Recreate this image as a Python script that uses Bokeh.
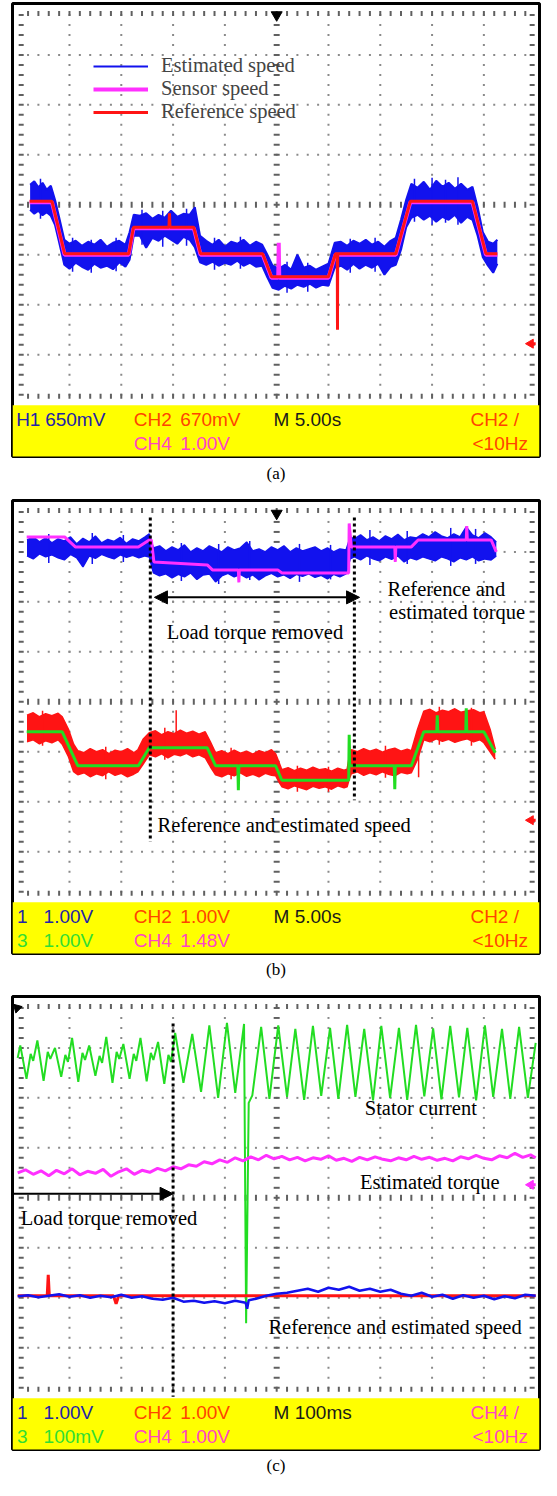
import numpy as np
from bokeh.plotting import figure
from bokeh.models import Range1d, Label, Arrow, NormalHead, Legend, LegendItem, Title
from bokeh.layouts import column
from bokeh.embed import file_html
from bokeh.resources import INLINE

# ---------------- panel (a): speed, time in s, values in screen divisions ----------------
a_ref_t = [1.15, 3.31, 4.53, 10.72, 11.18, 14.60, 14.65, 14.70, 17.0, 17.65,
           23.65, 24.5, 30.0, 30.67, 30.85, 30.87, 30.89, 36.5, 37.9, 43.9,
           45.2, 46.3]
a_ref_v = [0.07, 0.07, -0.98, -0.98, -0.45, -0.45, -0.17, -0.45, -0.45, -0.98,
           -0.98, -1.44, -1.44, -0.98, -0.98, -2.50, -0.98, -0.98, 0.07, 0.07,
           -0.98, -0.98]
a_sensor_t = [1.15, 3.31, 4.53, 10.72, 11.18, 17.0, 17.65, 23.65, 24.5, 25.15,
              25.2, 25.25, 30.0, 30.67, 36.5, 37.9, 43.9, 45.2, 46.3]
a_sensor_v = [0.05, 0.05, -1.0, -1.0, -0.47, -0.47, -1.0, -1.0, -1.46, -1.46,
              -0.76, -1.46, -1.46, -1.0, -1.0, 0.05, 0.05, -1.0, -1.0]
a_est_t = [1.2, 1.6, 2.0, 2.4, 2.8, 3.2, 3.6, 4.0, 4.5, 5.0,
           5.6, 6.2, 6.8, 7.4, 8.0, 8.6, 9.2, 9.8, 10.4, 10.8,
           11.2, 11.8, 12.4, 13.0, 13.6, 14.2, 14.8, 15.4, 16.0, 16.6,
           17.1, 17.6, 18.2, 18.8, 19.4, 20.0, 20.6, 21.2, 21.8, 22.4,
           23.0, 23.6, 24.1, 24.6, 25.2, 25.8, 26.4, 27.0, 27.6, 28.2,
           28.8, 29.4, 30.0, 30.6, 31.2, 31.8, 32.4, 33.0, 33.6, 34.2,
           34.8, 35.4, 36.0, 36.5, 37.0, 37.5, 38.0, 38.6, 39.2, 39.8,
           40.4, 41.0, 41.6, 42.2, 42.8, 43.4, 43.9, 44.4, 44.9, 45.4,
           45.9, 46.3]
a_est_hi = [0.40, 0.47, 0.35, 0.44, 0.30, 0.38, 0.10, -0.25, -0.70, -0.78,
            -0.72, -0.82, -0.74, -0.80, -0.70, -0.84, -0.76, -0.72, -0.80, -0.55,
            -0.20, -0.22, -0.17, -0.28, -0.20, -0.26, -0.12, -0.24, -0.18, -0.20,
            -0.05, -0.62, -0.72, -0.80, -0.70, -0.84, -0.74, -0.78, -0.70, -0.82,
            -0.74, -0.80, -1.00, -1.22, -1.28, -1.20, -1.30, -1.00, -1.26, -1.22,
            -1.30, -1.24, -1.18, -0.76, -0.74, -0.82, -0.72, -0.78, -0.70, -0.80,
            -0.74, -0.84, -0.72, -0.66, -0.30, 0.10, 0.42, 0.34, 0.46, 0.30,
            0.48, 0.36, 0.44, 0.32, 0.42, 0.30, 0.36, -0.05, -0.55, -0.74,
            -0.78, -0.70]
a_est_lo = [-0.10, -0.18, -0.12, -0.21, -0.15, -0.22, -0.40, -0.75, -1.20, -1.28,
            -1.16, -1.24, -1.30, -1.18, -1.26, -1.22, -1.29, -1.15, -1.24, -1.10,
            -0.62, -0.62, -0.86, -0.66, -0.72, -0.62, -0.70, -0.78, -0.64, -0.70,
            -0.85, -1.15, -1.20, -1.14, -1.22, -1.16, -1.20, -1.12, -1.22, -1.16,
            -1.24, -1.22, -1.45, -1.66, -1.70, -1.62, -1.68, -1.60, -1.64, -1.58,
            -1.66, -1.60, -1.62, -1.26, -1.22, -1.30, -1.18, -1.28, -1.20, -1.26,
            -1.18, -1.40, -1.24, -1.20, -0.90, -0.45, -0.26, -0.20, -0.30, -0.22,
            -0.34, -0.24, -0.30, -0.20, -0.36, -0.24, -0.30, -0.62, -1.05, -1.22,
            -1.36, -1.18]
# isolated noise excursions of the estimated speed
a_spk_t = [2.2, 5.3, 7.1, 9.5, 12.0, 14.0, 16.3, 19.0, 21.5, 26.0,
           28.0, 32.1, 34.5, 38.3, 40.0, 41.3, 42.5]
a_spk_lo = [-0.28, -1.34, -1.36, -1.33, -0.80, -0.84, -0.82, -1.30, -1.28, -1.76,
            -1.74, -1.36, -1.34, -0.34, -0.40, -0.36, -0.40]
a_spk_hi = [0.52, -0.66, -0.70, -0.66, -0.10, -0.12, -0.08, -0.66, -0.64, -1.14,
            -1.16, -0.68, -0.66, 0.52, 0.54, 0.50, 0.55]

# ---------------- panel (b): torque (top) and speed (bottom) ----------------
b_tq_est_t = [0.9, 1.5, 2.1, 2.7, 3.3, 3.9, 4.5, 5.1, 5.7, 6.3,
              6.9, 7.5, 8.1, 8.7, 9.3, 9.9, 10.5, 11.1, 11.7, 12.3,
              12.7, 13.1, 13.7, 14.3, 14.9, 15.5, 16.1, 16.7, 17.3, 17.9,
              18.5, 19.1, 19.7, 20.3, 20.9, 21.5, 22.1, 22.7, 23.3, 23.9,
              24.5, 25.1, 25.7, 26.3, 26.9, 27.5, 28.1, 28.7, 29.3, 29.9,
              30.5, 31.1, 31.7, 32.1, 32.5, 33.1, 33.7, 34.3, 34.9, 35.5,
              36.1, 36.7, 37.3, 37.9, 38.5, 39.1, 39.7, 40.3, 40.9, 41.5,
              42.1, 42.7, 43.3, 43.9, 44.5, 45.1, 45.7, 46.2]
b_tq_est_hi = [3.24, 3.30, 3.20, 3.28, 3.18, 3.26, 3.22, 3.30, 3.16, 3.27,
               3.20, 3.32, 3.18, 3.25, 3.21, 3.29, 3.17, 3.26, 3.22, 3.30,
               3.36, 3.08, 3.12, 3.02, 3.10, 3.04, 3.14, 3.00, 3.08, 3.02,
               3.12, 3.06, 3.00, 3.10, 3.04, 3.08, 3.20, 3.02, 3.06, 3.00,
               3.10, 3.04, 3.12, 3.00, 3.08, 3.02, 3.06, 3.10, 3.02, 3.08,
               3.00, 3.06, 3.04, 3.30, 3.26, 3.34, 3.24, 3.30, 3.22, 3.32,
               3.26, 3.35, 3.24, 3.30, 3.28, 3.36, 3.30, 3.40, 3.32, 3.28,
               3.36, 3.30, 3.50, 3.34, 3.28, 3.38, 3.30, 3.20]
b_tq_est_lo = [2.92, 2.86, 2.96, 2.90, 2.94, 2.88, 2.84, 2.95, 2.88, 2.70,
               2.92, 2.87, 2.95, 2.90, 2.86, 2.94, 2.89, 2.93, 2.88, 2.92,
               2.90, 2.58, 2.52, 2.56, 2.48, 2.55, 2.50, 2.58, 2.45, 2.54,
               2.56, 2.40, 2.52, 2.57, 2.50, 2.55, 2.48, 2.54, 2.44, 2.52,
               2.57, 2.50, 2.54, 2.47, 2.55, 2.51, 2.56, 2.49, 2.53, 2.46,
               2.55, 2.50, 2.56, 2.86, 2.90, 2.84, 2.92, 2.86, 2.82, 2.90,
               2.85, 2.92, 2.80, 2.88, 2.84, 2.90, 2.86, 2.82, 2.90, 2.86,
               2.80, 2.88, 2.84, 2.90, 2.82, 2.86, 2.84, 2.92]
b_tq_spk_t = [3.0, 7.2, 10.2, 15.8, 19.4, 22.4, 27.2, 30.2, 34.0, 37.6, 41.8, 44.2]
b_tq_spk_lo = [2.78, 2.76, 2.80, 2.42, 2.36, 2.44, 2.40, 2.45, 2.74, 2.76, 2.72, 2.76]
b_tq_spk_hi = [3.36, 3.38, 3.34, 3.18, 3.16, 3.22, 3.16, 3.14, 3.44, 3.42, 3.48, 3.46]
b_tq_ref_t = [0.87, 4.53, 5.56, 11.65, 12.7, 12.9, 13.15, 18.3, 18.8, 21.3,
              21.35, 21.4, 25.1, 25.5, 31.7, 31.95, 32.0, 32.2, 36.4, 36.45,
              36.5, 38.0, 38.65, 43.3, 43.35, 43.4, 45.7, 46.2]
b_tq_ref_v = [3.30, 3.30, 3.10, 3.10, 3.24, 3.24, 2.80, 2.74, 2.64, 2.64,
              2.39, 2.64, 2.64, 2.58, 2.58, 2.58, 3.57, 3.10, 3.10, 2.80,
              3.10, 3.10, 3.24, 3.24, 3.52, 3.24, 3.24, 3.00]
b_sp_ref_t = [0.87, 4.3, 5.8, 11.65, 12.7, 15.3, 18.3, 19.1, 21.25, 21.3,
              21.35, 24.9, 25.5, 31.7, 31.95, 32.0, 32.05, 32.2, 36.35, 36.4,
              36.45, 38.0, 39.2, 40.45, 40.5, 40.55, 43.25, 43.3, 43.35, 45.0,
              46.1]
b_sp_ref_v = [-0.60, -0.60, -1.28, -1.28, -0.92, -0.92, -0.92, -1.28, -1.28, -1.77,
              -1.28, -1.28, -1.57, -1.57, -1.57, -0.66, -1.28, -1.28, -1.28, -1.75,
              -1.28, -1.28, -0.60, -0.60, -0.27, -0.60, -0.60, -0.13, -0.60, -0.60,
              -1.02]
b_sp_est_t = [0.9, 1.5, 2.1, 2.7, 3.3, 3.9, 4.3, 4.9, 5.4, 5.8,
              6.4, 7.0, 7.6, 8.2, 8.8, 9.4, 10.0, 10.6, 11.2, 11.6,
              12.1, 12.7, 13.3, 13.9, 14.5, 15.1, 15.7, 16.3, 16.9, 17.5,
              18.1, 18.6, 19.1, 19.7, 20.3, 20.9, 21.5, 22.1, 22.7, 23.3,
              23.9, 24.5, 24.9, 25.2, 25.5, 26.1, 26.7, 27.3, 27.9, 28.5,
              29.1, 29.7, 30.3, 30.9, 31.5, 31.8, 32.0, 32.2, 32.8, 33.4,
              34.0, 34.6, 35.2, 35.8, 36.4, 37.0, 37.6, 38.0, 38.6, 39.2,
              39.8, 40.4, 41.0, 41.6, 42.2, 42.8, 43.4, 44.0, 44.6, 45.0,
              45.6, 46.1]
b_sp_est_hi = [-0.27, -0.22, -0.30, -0.24, -0.28, -0.23, -0.30, -0.55, -0.85, -0.98,
               -1.02, -0.94, -1.00, -0.96, -1.04, -0.97, -1.00, -0.94, -1.02, -0.96,
               -0.75, -0.62, -0.58, -0.66, -0.60, -0.64, -0.57, -0.63, -0.59, -0.65,
               -0.60, -0.80, -1.02, -0.98, -1.04, -0.97, -1.03, -0.99, -1.05, -0.98,
               -1.02, -0.96, -1.04, -1.20, -1.36, -1.32, -1.38, -1.33, -1.37, -1.31,
               -1.36, -1.34, -1.39, -1.33, -1.37, -1.35, -1.10, -0.96, -1.00, -0.94,
               -0.99, -0.95, -1.01, -0.96, -0.93, -0.99, -0.95, -0.98, -0.55, -0.19,
               -0.15, -0.22, -0.17, -0.20, -0.14, -0.21, -0.18, -0.16, -0.22, -0.20,
               -0.55, -0.95]
b_sp_est_lo = [-0.80, -0.76, -0.84, -0.78, -0.82, -0.76, -0.85, -1.10, -1.40, -1.46,
               -1.42, -1.50, -1.44, -1.48, -1.40, -1.47, -1.43, -1.50, -1.45, -1.40,
               -1.25, -1.06, -1.10, -1.04, -1.12, -1.05, -1.08, -1.03, -1.10, -1.06,
               -1.12, -1.30, -1.46, -1.50, -1.44, -1.48, -1.42, -1.49, -1.45, -1.50,
               -1.43, -1.47, -1.48, -1.60, -1.70, -1.74, -1.68, -1.72, -1.76, -1.69,
               -1.73, -1.70, -1.75, -1.68, -1.72, -1.70, -1.55, -1.44, -1.40, -1.47,
               -1.42, -1.46, -1.40, -1.45, -1.48, -1.41, -1.44, -1.42, -1.15, -0.76,
               -0.80, -0.74, -0.79, -0.75, -0.81, -0.77, -0.74, -0.80, -0.76, -0.82,
               -1.00, -1.15]
b_sp_spk_t = [2.4, 8.5, 14.2, 15.3, 20.6, 27.0, 30.0, 35.5, 38.7, 40.7, 43.8]
b_sp_spk_lo = [-0.88, -1.55, -1.16, -0.62, -1.55, -1.80, -1.80, -1.52, -1.51, -0.86, -0.88]
b_sp_spk_hi = [-0.18, -0.90, -0.52, -0.17, -0.92, -1.28, -1.30, -0.88, -1.00, -0.10, -0.12]

# ---------------- panel (c): time in ms ----------------
c_cur_t = [0, 5, 17, 25, 30, 38, 50, 58, 63, 72,
           84, 92, 97, 105, 117, 125, 130, 138, 150, 158,
           163, 171, 183, 191, 196, 204, 216, 224, 229, 237,
           249, 257, 262, 271, 283, 291, 296, 304,
           320, 337, 354, 370, 387, 404, 420, 437, 441, 446,
           453, 470, 486, 503, 520, 536, 553, 570, 586, 603,
           619, 636, 652, 669, 686, 702, 719, 736, 752, 769,
           785, 802, 818, 835, 852, 868, 885, 902, 918, 935,
           951, 968, 985, 1000]
c_cur_v = [2.80, 3.05, 2.38, 2.88, 2.74, 3.15, 2.34, 2.92, 2.78, 3.00,
           2.42, 2.86, 2.72, 3.20, 2.32, 2.90, 2.76, 3.05, 2.44, 2.84,
           2.70, 3.22, 2.30, 2.92, 2.78, 3.08, 2.38, 2.88, 2.74, 3.20,
           2.33, 2.90, 2.76, 3.12, 2.28, 2.86, 2.72, 3.30,
           2.30, 3.28, 2.12, 3.45, 2.00, 3.50, 2.10, 3.48, -2.51, 1.90,
           2.05, 3.42, 1.98, 3.45, 2.02, 3.38, 1.96, 3.44, 2.04, 3.40,
           1.98, 3.46, 2.02, 3.38, 1.95, 3.44, 2.00, 3.40, 1.96, 3.46,
           2.03, 3.39, 1.97, 3.44, 2.01, 3.40, 1.95, 3.45, 2.02, 3.38,
           1.98, 3.42, 2.00, 3.10]
c_tq_t = [0, 15, 30, 45, 60, 75, 90, 105, 120, 135,
          150, 165, 180, 195, 210, 225, 240, 255, 270, 285,
          300, 315, 330, 345, 360, 375, 390, 405, 420, 435,
          450, 465, 480, 495, 510, 525, 540, 555, 570, 585,
          600, 615, 630, 645, 660, 675, 690, 705, 720, 735,
          750, 765, 780, 795, 810, 825, 840, 855, 870, 885,
          900, 915, 930, 945, 960, 975, 990, 1000]
c_tq_v = [0.50, 0.56, 0.47, 0.54, 0.44, 0.55, 0.48, 0.58, 0.46, 0.53,
          0.49, 0.57, 0.43, 0.52, 0.58, 0.47, 0.55, 0.51, 0.59, 0.54,
          0.62, 0.58, 0.66, 0.63, 0.72, 0.68, 0.76, 0.71, 0.80, 0.74,
          0.82, 0.76, 0.85, 0.78, 0.83, 0.76, 0.81, 0.74, 0.80, 0.77,
          0.84, 0.75, 0.79, 0.73, 0.81, 0.76, 0.82, 0.77, 0.74, 0.80,
          0.76, 0.83, 0.77, 0.81, 0.75, 0.79, 0.74, 0.82, 0.78, 0.85,
          0.79, 0.76, 0.84, 0.80, 0.89, 0.81, 0.86, 0.80]
c_sp_ref_t = [0, 57, 59, 61, 185, 190, 195, 1000]
c_sp_ref_v = [-1.96, -1.96, -1.54, -1.96, -1.96, -2.12, -1.96, -1.96]
c_sp_est_t = [0, 20, 40, 60, 80, 100, 120, 140, 160, 180,
              200, 220, 240, 260, 280, 300, 320, 340, 360, 380,
              400, 420, 440, 443, 446, 460, 480, 500, 520, 540,
              560, 580, 600, 620, 640, 660, 680, 700, 720, 740,
              760, 780, 800, 820, 840, 860, 880, 900, 920, 940,
              960, 980, 1000]
c_sp_est_v = [-1.97, -1.95, -1.99, -1.96, -1.93, -1.98, -1.95, -2.00, -1.96, -1.99,
              -1.94, -2.00, -1.97, -2.02, -2.04, -2.00, -2.08, -2.06, -2.10, -2.07,
              -2.11, -2.06, -2.10, -2.22, -2.05, -2.02, -1.96, -1.92, -1.90, -1.86,
              -1.82, -1.88, -1.80, -1.84, -1.78, -1.86, -1.82, -1.88, -1.84, -1.92,
              -1.96, -1.90, -1.98, -1.94, -2.02, -1.95, -2.00, -1.96, -2.03, -1.97,
              -2.01, -1.94, -1.96]

# ---------------- styling ----------------
PX_X = 51.8     # px per horizontal division
PX_Y = 49.96    # px per vertical division
FRAME_W = 527
FRAME_H = 453
SERIF = "Liberation Serif"
SANS = "Liberation Sans"
BLUE = "#1212ee"
RED = "#ff1414"
MAGENTA = "#ff30ff"
GREEN = "#22dd22"
S_BLUE = "#2323a8"
S_ORANGE = "#ff4400"
S_PINK = "#ff44c4"
S_GREEN = "#33dd33"
S_BLACK = "#1a1a1a"
ROW_Y = [-4.30, -4.77]


def scope(height, xdiv, caption, standoff):
    x0 = -5.19 / PX_X * xdiv
    x1 = 10 * xdiv + 3.83 / PX_X * xdiv
    y1 = 4 + 1.45 / PX_Y
    y0 = y1 - FRAME_H / PX_Y
    p = figure(width=541, height=height, output_backend="svg", toolbar_location=None,
               x_range=Range1d(x0, x1), y_range=Range1d(y0, y1),
               x_axis_type=None, y_axis_type=None,
               min_border_left=12, min_border_right=2, min_border_top=3,
               min_border_bottom=height - 3 - FRAME_H)
    p.grid.visible = False
    p.outline_line_color = "black"
    p.outline_line_width = 3
    p.background_fill_color = "white"
    p.border_fill_color = "white"
    p.quad(left=[x0], right=[x1], bottom=[y0 - 1], top=[-4.01],
           fill_color="#ffff00", line_color=None)
    dx, dy = [], []
    for i in range(1, 10):
        if i == 5:
            continue
        for j in range(1, 40):
            dx.append(i * xdiv)
            dy.append(-4 + 0.2 * j)
    for j in range(1, 8):
        if j == 4:
            continue
        for i in range(1, 50):
            dx.append(0.2 * i * xdiv)
            dy.append(-4 + j)
    p.scatter(dx, dy, marker="square", size=2, fill_color="#8a8a8a", line_color=None)
    cy = [-4 + 0.2 * j for j in range(1, 40)]
    cx = [0.2 * i * xdiv for i in range(1, 50)]
    p.scatter([5 * xdiv] * len(cy), cy, marker="dash", size=6,
              line_color="#606060", line_width=2)
    p.scatter(cx, [0] * len(cx), marker="dash", angle=np.pi / 2, size=6,
              line_color="#606060", line_width=2)
    ex = 3.5 / PX_X * xdiv
    p.scatter([ex] * len(cy), cy, marker="dash", size=5, line_color="#606060", line_width=2)
    p.scatter([10 * xdiv - ex] * len(cy), cy, marker="dash", size=5,
              line_color="#606060", line_width=2)
    p.scatter(cx, [3.83] * len(cx), marker="dash", angle=np.pi / 2, size=5,
              line_color="#606060", line_width=2)
    p.scatter(cx, [-3.83] * len(cx), marker="dash", angle=np.pi / 2, size=5,
              line_color="#606060", line_width=2)
    p.add_layout(Title(text=caption, align="center", text_font=SERIF, text_font_size="17px",
                       text_font_style="normal", text_color="black", standoff=standoff),
                 "below")
    return p


def status(p, x, row, text, color):
    p.add_layout(Label(x=x, y=ROW_Y[row], text=text, text_color=color,
                       text_font=SANS, text_font_size="19px", text_baseline="middle",
                       text_align="left"))


def note(p, x, y, text, align="left"):
    p.add_layout(Label(x=x, y=y, text=text, text_font=SERIF, text_font_size="20.5px",
                       text_baseline="middle", text_align=align, text_color="black"))


def trig_top(p, xdiv, y):
    p.scatter([5 * xdiv], [y], marker="inverted_triangle", size=11,
              fill_color="black", line_color="black")


def level_marker(p, xdiv, y, color):
    xm = 10 * xdiv - 5 / PX_X * xdiv
    p.scatter([xm], [y], marker="triangle", angle=np.pi / 2, size=9,
              fill_color=color, line_color=color)
    p.segment(x0=[xm], y0=[y], x1=[10 * xdiv], y1=[y], line_color=color, line_width=3)


def vdots(p, x, ytop, ybot):
    p.segment(x0=[x], y0=[ytop], x1=[x], y1=[ybot], line_color="black",
              line_width=3, line_dash="3 3")


# ---------------- (a) ----------------
pa = scope(497, 5.0, "(a)", 10)
pa.varea(x=a_est_t, y1=a_est_lo, y2=a_est_hi, fill_color=BLUE)
r_est = pa.line(a_est_t, a_est_hi, line_color=BLUE, line_width=2)
pa.line(a_est_t, a_est_lo, line_color=BLUE, line_width=2)
pa.segment(x0=a_spk_t, y0=a_spk_lo, x1=a_spk_t, y1=a_spk_hi, line_color=BLUE, line_width=1.5)
r_sen = pa.line(a_sensor_t, a_sensor_v, line_color=MAGENTA, line_width=4)
r_ref = pa.line(a_ref_t, a_ref_v, line_color=RED, line_width=3)
legend = Legend(items=[LegendItem(label="Estimated speed", renderers=[r_est]),
                       LegendItem(label="Sensor speed", renderers=[r_sen]),
                       LegendItem(label="Reference speed", renderers=[r_ref])],
                location=(81, 333), orientation="vertical",
                background_fill_alpha=0, border_line_color=None,
                label_text_font=SERIF, label_text_font_size="20.5px",
                glyph_width=55, glyph_height=20, label_height=20,
                label_standoff=13, spacing=-1, padding=0, margin=0)
pa.add_layout(legend)
trig_top(pa, 5.0, 3.80)
level_marker(pa, 5.0, -2.78, RED)
status(pa, -0.15, 0, "H1", S_BLUE)
status(pa, 2.65, 0, "650mV", S_BLUE)
status(pa, 11.2, 0, "CH2", S_ORANGE)
status(pa, 15.7, 0, "670mV", S_ORANGE)
status(pa, 24.7, 0, "M 5.00s", S_BLACK)
status(pa, 43.7, 0, "CH2 /", S_ORANGE)
status(pa, 11.2, 1, "CH4", S_PINK)
status(pa, 15.7, 1, "1.00V", S_PINK)
status(pa, 43.9, 1, "<10Hz", S_ORANGE)

# ---------------- (b) ----------------
pb = scope(496, 5.0, "(b)", 9)
pb.varea(x=b_tq_est_t, y1=b_tq_est_lo, y2=b_tq_est_hi, fill_color=BLUE)
pb.line(b_tq_est_t, b_tq_est_hi, line_color=BLUE, line_width=1.5)
pb.line(b_tq_est_t, b_tq_est_lo, line_color=BLUE, line_width=1.5)
pb.segment(x0=b_tq_spk_t, y0=b_tq_spk_lo, x1=b_tq_spk_t, y1=b_tq_spk_hi,
           line_color=BLUE, line_width=1.5)
pb.line(b_tq_ref_t, b_tq_ref_v, line_color=MAGENTA, line_width=3)
pb.varea(x=b_sp_est_t, y1=b_sp_est_lo, y2=b_sp_est_hi, fill_color=RED)
pb.line(b_sp_est_t, b_sp_est_hi, line_color=RED, line_width=1.5)
pb.line(b_sp_est_t, b_sp_est_lo, line_color=RED, line_width=1.5)
pb.segment(x0=b_sp_spk_t, y0=b_sp_spk_lo, x1=b_sp_spk_t, y1=b_sp_spk_hi,
           line_color=RED, line_width=1.5)
pb.line(b_sp_ref_t, b_sp_ref_v, line_color=GREEN, line_width=3)
vdots(pb, 12.8, 3.69, -2.80)
vdots(pb, 32.5, 3.69, -1.97)
pb.add_layout(Arrow(start=NormalHead(size=13, fill_color="black", line_color="black"),
                    end=NormalHead(size=13, fill_color="black", line_color="black"),
                    x_start=13.2, y_start=2.09, x_end=33.0, y_end=2.09,
                    line_color="black", line_width=2))
note(pb, 22.9, 1.40, "Load torque removed", align="center")
note(pb, 35.7, 2.25, "Reference and")
note(pb, 35.85, 1.79, "estimated torque")
note(pb, 13.5, -2.47, "Reference and estimated speed")
trig_top(pb, 5.0, 3.77)
level_marker(pb, 5.0, -2.37, RED)
status(pb, -0.07, 0, "1", S_BLUE)
status(pb, 2.5, 0, "1.00V", S_BLUE)
status(pb, -0.07, 1, "3", S_GREEN)
status(pb, 2.5, 1, "1.00V", S_GREEN)
status(pb, 11.2, 0, "CH2", S_ORANGE)
status(pb, 15.7, 0, "1.00V", S_ORANGE)
status(pb, 11.2, 1, "CH4", S_PINK)
status(pb, 15.7, 1, "1.48V", S_PINK)
status(pb, 24.7, 0, "M 5.00s", S_BLACK)
status(pb, 43.7, 0, "CH2 /", S_ORANGE)
status(pb, 43.9, 1, "<10Hz", S_ORANGE)

# ---------------- (c) ----------------
pc = scope(487, 100.0, "(c)", 8)
pc.line(c_cur_t, c_cur_v, line_color=GREEN, line_width=2)
pc.line(c_tq_t, c_tq_v, line_color=MAGENTA, line_width=3)
pc.line(c_sp_ref_t, c_sp_ref_v, line_color=RED, line_width=3)
pc.line(c_sp_est_t, c_sp_est_v, line_color=BLUE, line_width=2.5)
vdots(pc, 300, 3.49, -3.98)
pc.add_layout(Arrow(end=NormalHead(size=13, fill_color="black", line_color="black"),
                    start=None, x_start=-10.0, y_start=0.08, x_end=300, y_end=0.08,
                    line_color="black", line_width=2))
note(pc, 670, 1.80, "Stator current")
note(pc, 661, 0.32, "Estimated torque")
note(pc, 6, -0.40, "Load torque removed")
note(pc, 484, -2.59, "Reference and estimated speed")
pc.scatter([-1.0], [3.80], marker="triangle", angle=np.pi / 4, size=9,
           fill_color="black", line_color="black")
level_marker(pc, 100.0, 0.26, MAGENTA)
status(pc, -1.4, 0, "1", S_BLUE)
status(pc, 50, 0, "1.00V", S_BLUE)
status(pc, -1.4, 1, "3", S_GREEN)
status(pc, 50, 1, "100mV", S_GREEN)
status(pc, 224, 0, "CH2", S_ORANGE)
status(pc, 314, 0, "1.00V", S_ORANGE)
status(pc, 224, 1, "CH4", S_PINK)
status(pc, 314, 1, "1.00V", S_PINK)
status(pc, 494, 0, "M 100ms", S_BLACK)
status(pc, 874, 0, "CH4 /", S_PINK)
status(pc, 878, 1, "<10Hz", S_PINK)

layout = column(pa, pb, pc)
open("out.html", "w").write(file_html(layout, INLINE))
